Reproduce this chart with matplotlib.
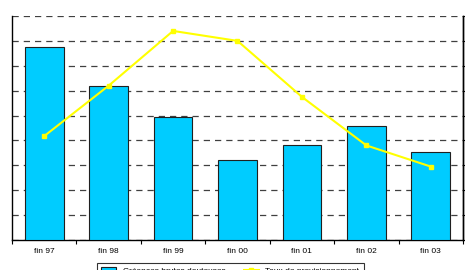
import matplotlib
matplotlib.use("Agg")
import matplotlib.pyplot as plt
import numpy as np

categories = ["fin 97", "fin 98", "fin 99", "fin 00", "fin 01", "fin 02", "fin 03"]
creances = [775, 618, 494, 321, 382, 458, 353]
taux = [62.35, 66.4, 70.8, 70.0, 65.5, 61.6, 59.9]
left_ticks = list(range(0, 1000, 100))
right_ticks = list(range(54, 74, 2))
right_labels = [f"{v}%" for v in right_ticks]

plt.rcParams['font.family'] = ['Liberation Sans', 'DejaVu Sans']

fig = plt.figure(figsize=(4.65, 2.70), dpi=100)
ax = fig.add_axes([12/465, 30/270, 451/465, 224/270])
x = np.arange(len(categories))

ax.bar(x, creances, width=0.6, color="#00CCFF", edgecolor="#202020", linewidth=0.8, zorder=3,
       label="Créances brutes douteuses")
ax.set_xlim(-0.5, len(categories) - 0.5)
ax.set_ylim(0, 900)
ax.set_yticks(left_ticks)
ax.set_yticklabels([])
ax.tick_params(axis='y', length=0)
ax.yaxis.grid(True, linestyle=(0, (5, 4)), color="#404040", linewidth=0.9, zorder=0)
ax.set_axisbelow(True)
ax.set_xticks(x)
ax.set_xticklabels(categories, fontsize=6)
ax.tick_params(axis='x', which='major', length=0, pad=6)
ax.set_xticks(np.arange(-0.5, len(categories), 1.0), minor=True)
ax.tick_params(axis='x', which='minor', length=3, direction='out', width=0.8)
ax.spines['top'].set_visible(False)
for s in ['left', 'right', 'bottom']:
    ax.spines[s].set_linewidth(1.0)

ax2 = ax.twinx()
ax2.plot(x, taux, color="#FFFF00", linewidth=1.5, marker="s", markersize=3.5, zorder=4,
         label="Taux de provisionnement")
ax2.set_ylim(54, 72)
ax2.set_yticks(right_ticks)
ax2.set_yticklabels(right_labels, fontsize=6)
ax2.tick_params(axis='y', length=2, pad=1, width=0.8)
ax2.spines['top'].set_visible(False)
ax2.spines['left'].set_visible(False)
ax2.spines['bottom'].set_visible(False)
ax2.spines['right'].set_linewidth(1.0)

h1, l1 = ax.get_legend_handles_labels()
h2, l2 = ax2.get_legend_handles_labels()
leg = fig.legend(h1 + h2, l1 + l2, loc='upper left', bbox_to_anchor=(97/465, 1 - 263/270),
                 ncol=2, fontsize=6, frameon=True, fancybox=False, borderaxespad=0,
                 columnspacing=2.2, handlelength=1.8, borderpad=0.5)
leg.get_frame().set_edgecolor("black")
leg.get_frame().set_linewidth(0.8)

fig.savefig("out.png", dpi=100)
